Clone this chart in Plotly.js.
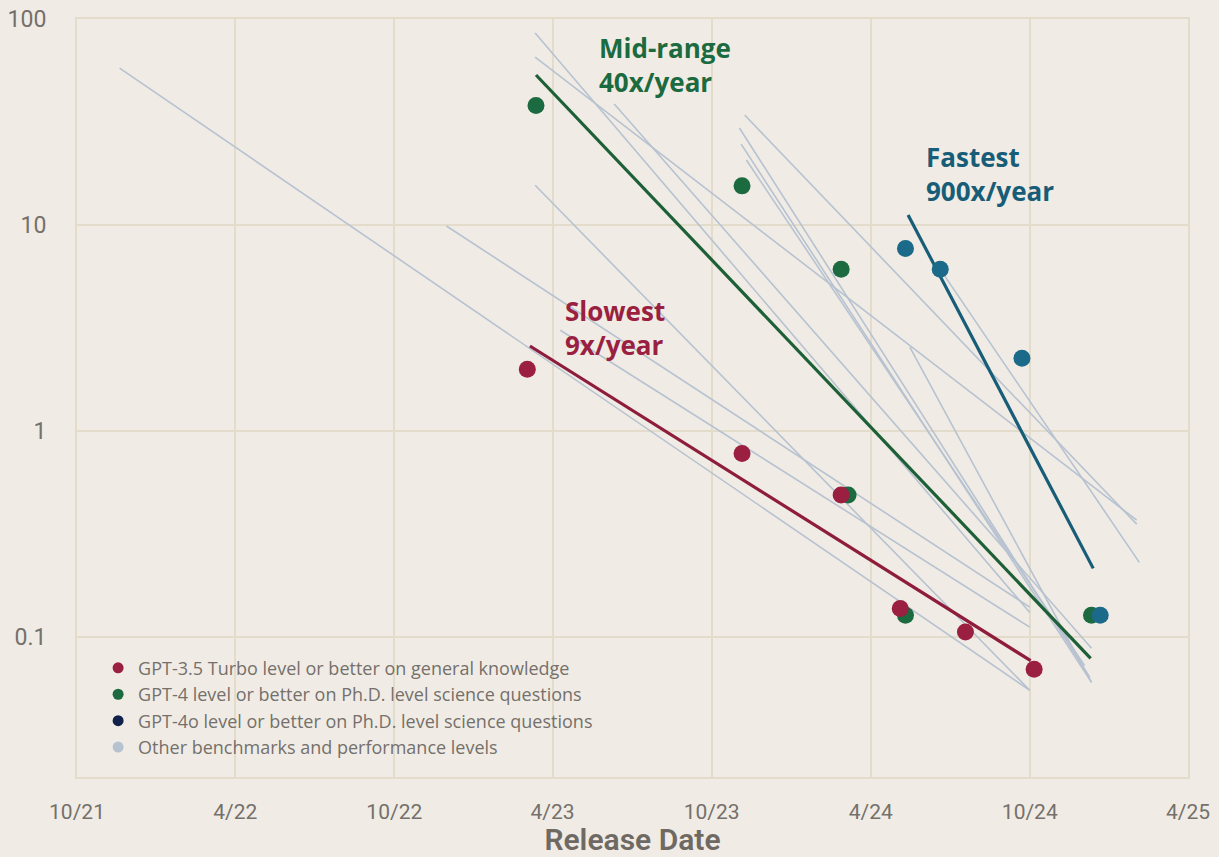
<!DOCTYPE html>
<html>
<head>
<meta charset="utf-8">
<script src="https://cdn.plot.ly/plotly-3.0.1.min.js"></script>
<style>
  html, body { margin: 0; padding: 0; background: #f0ece5; }
  #chart { width: 1219px; height: 857px; }
</style>
</head>
<body>
<div id="chart"></div>
<script>
// ---- Data ----
// Price ($ per million tokens) vs release date
const gpt35Dates  = ['2023-03-03', '2023-11-05', '2024-02-27', '2024-05-05', '2024-07-19', '2024-10-06'];
const gpt35Values = [2.0, 0.78, 0.49, 0.138, 0.106, 0.07];

const gpt4Dates  = ['2023-03-13', '2023-11-05', '2024-02-27', '2024-03-06', '2024-05-11', '2024-12-11'];
const gpt4Values = [38, 15.5, 6.1, 0.49, 0.128, 0.128];

const gpt4oDates  = ['2024-05-11', '2024-06-20', '2024-09-22', '2024-12-21'];
const gpt4oValues = [7.7, 6.1, 2.26, 0.128];

// Trend lines (start, end)
const slowestDates  = ['2023-03-06', '2024-10-02'];
const slowestValues = [2.59, 0.077];
const midDates  = ['2023-03-13', '2024-12-10'];
const midValues = [53.5, 0.079];
const fastestDates  = ['2024-05-14', '2024-12-13'];
const fastestValues = [11.2, 0.216];

// Other benchmarks' trend lines (start / end of each line)
const otherStartDates  = ['2021-11-19', '2022-11-30', '2023-03-12', '2023-03-12', '2023-03-12', '2023-06-11', '2023-11-08', '2023-11-02', '2023-11-04', '2023-11-10', '2024-05-16', '2024-06-20', '2023-04-10'];
const otherStartValues = [57.8, 9.9, 15.6, 85.5, 65.4, 38.7, 34.2, 29.6, 24.7, 20.7, 2.56, 6.1, 3.09];
const otherEndDates  = ['2024-10-01', '2024-10-01', '2024-10-01', '2024-10-01', '2025-02-01', '2024-12-11', '2025-02-01', '2024-12-09', '2024-12-11', '2024-12-03', '2024-12-11', '2025-02-04', '2024-10-01'];
const otherEndValues = [0.0553, 0.140, 0.0553, 0.132, 0.37, 0.0885, 0.354, 0.064, 0.0605, 0.073, 0.0605, 0.231, 0.112];

const xTickVals  = ['2021-10-01', '2022-04-01', '2022-10-01', '2023-04-01', '2023-10-01', '2024-04-01', '2024-10-01', '2025-04-01'];
const xTickText  = ['10/21', '4/22', '10/22', '4/23', '10/23', '4/24', '10/24', '4/25'];
const yTickVals  = [0.1, 1, 10, 100];
const yTickText  = ['0.1', '1', '10', '100'];

const legendNames = [
  'GPT-3.5 Turbo level or better on general knowledge',
  'GPT-4 level or better on Ph.D. level science questions',
  'GPT-4o level or better on Ph.D. level science questions',
  'Other benchmarks and performance levels'
];

// ---- Styles ----
const RED = '#9a1f40', GREEN = '#1c6a3f', BLUE = '#1b6a89', NAVY = '#10224c', GREY = '#b7c2d1';
const RED_LINE = '#8e1c3c', GREEN_LINE = '#1d5f37', BLUE_LINE = '#185d78';
const BG = '#f0ece5', GRID = '#e3dccb', TEXT = '#75706b';

const traces = [];

// grey lines
for (let i = 0; i < otherStartDates.length; i++) {
  traces.push({
    x: [otherStartDates[i], otherEndDates[i]],
    y: [otherStartValues[i], otherEndValues[i]],
    mode: 'lines', type: 'scatter', showlegend: false, hoverinfo: 'skip',
    line: { color: GREY, width: 1.6 }
  });
}

// trend lines
traces.push({ x: slowestDates, y: slowestValues, mode: 'lines', type: 'scatter', showlegend: false, line: { color: RED_LINE, width: 3.2 } });
traces.push({ x: midDates, y: midValues, mode: 'lines', type: 'scatter', showlegend: false, line: { color: GREEN_LINE, width: 3.2 } });
traces.push({ x: fastestDates, y: fastestValues, mode: 'lines', type: 'scatter', showlegend: false, line: { color: BLUE_LINE, width: 3.2 } });

// points
traces.push({ x: gpt4Dates, y: gpt4Values, mode: 'markers', type: 'scatter', showlegend: false, marker: { color: GREEN, size: 17 } });
traces.push({ x: gpt35Dates, y: gpt35Values, mode: 'markers', type: 'scatter', showlegend: false, marker: { color: RED, size: 17 } });
traces.push({ x: gpt4oDates, y: gpt4oValues, mode: 'markers', type: 'scatter', showlegend: false, marker: { color: BLUE, size: 17 } });

// legend entries
const legendColors = [RED, GREEN, NAVY, GREY];
legendNames.forEach((n, i) => {
  traces.push({ x: [null], y: [null], mode: 'markers', type: 'scatter', name: n, showlegend: true,
    marker: { color: legendColors[i], size: 11 } });
});

const annFont = { family: 'Open Sans, Lato, sans-serif', size: 26, weight: 700 };
function ann(x, ylog, text, color) {
  return { x: x, y: ylog, xref: 'x', yref: 'y', text: text, showarrow: false,
    xanchor: 'left', yanchor: 'middle', align: 'left',
    font: Object.assign({ color: color }, annFont) };
}

const layout = {
  width: 1219, height: 857,
  paper_bgcolor: BG, plot_bgcolor: BG,
  margin: { l: 77, r: 31, t: 19, b: 80 },
  showlegend: true,
  legend: {
    x: 0.019, y: 0.168, xanchor: 'left', yanchor: 'top',
    bgcolor: 'rgba(0,0,0,0)',
    font: { family: 'Open Sans, sans-serif', size: 18, color: TEXT },
    tracegroupgap: 0, itemclick: false
  },
  xaxis: {
    type: 'date',
    range: ['2021-10-01', '2025-04-01'],
    tickmode: 'array', tickvals: xTickVals, ticktext: xTickText,
    showgrid: true, gridcolor: GRID, gridwidth: 2,
    showline: true, linecolor: GRID, linewidth: 2, mirror: true,
    zeroline: false, ticks: '',
    ticklabelstandoff: 15,
    tickfont: { family: 'Roboto, sans-serif', size: 21, color: TEXT },
    title: { text: 'Release Date', standoff: 11, font: { family: 'Roboto, sans-serif', size: 30, color: '#6f6963', weight: 600 } }
  },
  yaxis: {
    type: 'log',
    range: [Math.log10(0.021), 2],
    tickmode: 'array', tickvals: yTickVals, ticktext: yTickText,
    showgrid: true, gridcolor: GRID, gridwidth: 2,
    showline: true, linecolor: GRID, linewidth: 2, mirror: true,
    zeroline: false, ticks: '',
    ticklabelstandoff: 24,
    tickfont: { family: 'Roboto, sans-serif', size: 23, color: TEXT }
  },
  annotations: [
    ann('2023-05-22', 1.777, 'Mid-range<br>40x/year', GREEN),
    ann('2023-04-13', 0.502, 'Slowest<br>9x/year', RED),
    ann('2024-06-01', 1.248, 'Fastest<br>900x/year', BLUE_LINE)
  ]
};

Plotly.newPlot('chart', traces, layout, { displayModeBar: false, staticPlot: true });
</script>
</body>
</html>
